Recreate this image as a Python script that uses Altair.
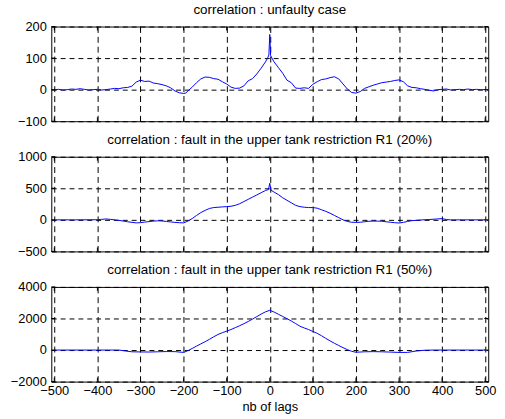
import altair as alt
import pandas as pd

# Cross-correlation curves, one per operating condition
lags_ok = [-500, -490, -480, -470, -460, -450, -440, -430, -420, -410, -400, -390, -380, -370,
           -360, -350, -340, -330, -320, -310, -300, -290, -280, -270, -260, -250, -240, -230,
           -220, -210, -200, -195, -190, -180, -170, -160, -150, -140, -130, -120, -110, -100,
           -90, -80, -70, -60, -50, -40, -30, -20, -10, -5, -2, 0, 2, 5, 10, 20, 30, 40, 50,
           60, 70, 80, 90, 100, 110, 120, 130, 140, 150, 160, 170, 180, 190, 200, 210, 220, 230,
           240, 250, 260, 270, 280, 290, 300, 310, 320, 330, 340, 350, 360, 370, 380, 390, 400,
           410, 420, 430, 440, 450, 460, 470, 480, 490, 500]
corr_ok = [0, 1, -1, 0, 2, 1, 3, 1, -1, 0, 1, -1, 0, 2,
           4, 3, 6, 7, 11, 24, 30, 26, 27, 21, 19, 16, 12, 6,
           -4, -10, -12, -11, -4, 8, 22, 34, 40, 39, 35, 33, 25, 18,
           8, 4, 5, 12, 28, 35, 50, 68, 88, 100, 110, 175, 108, 100, 88, 70, 52, 30, 22,
           5, 4, 6, 4, 17, 25, 32, 34, 38, 41, 34, 18, 2, -9, -11, -6, 4, 9,
           14, 18, 22, 24, 26, 29, 31, 25, 12, 7, 6, 3, 1, -2, -4, 0, 1,
           2, -1, 0, 1, 0, 2, 0, 1, 0, 0]

lags_20 = [-500, -450, -400, -390, -380, -370, -350, -330, -310, -300, -290, -270, -260, -250,
           -240, -230, -220, -210, -200, -190, -180, -170, -160, -150, -140, -130, -120, -110,
           -100, -90, -80, -70, -60, -50, -40, -30, -20, -10, -3, 0, 3, 10, 20, 30, 40, 50, 60,
           70, 80, 90, 100, 110, 120, 130, 140, 150, 160, 170, 180, 190, 200, 210, 220, 230,
           240, 250, 260, 270, 280, 290, 300, 310, 320, 330, 340, 350, 370, 390, 400, 410, 420,
           450, 500]
corr_20 = [0, 0, 2, 8, 14, 8, -8, -30, -48, -45, -35, -20, -15, -18,
           -25, -33, -40, -45, -48, -20, 20, 70, 115, 150, 180, 195, 200, 205,
           210, 215, 230, 255, 290, 325, 360, 395, 430, 465, 480, 580, 470, 440, 400, 350, 310,
           270, 230, 210, 200, 195, 195, 185, 160, 135, 105, 70, 35, 0, -25, -38, -40, -38, -30,
           -22, -20, -20, -22, -30, -38, -45, -50, -40, -25, -12, -8, -2, 5, 15, 20, 5, 0,
           0, 0]

lags_50 = [-500, -400, -350, -340, -320, -300, -280, -260, -240, -220, -200, -190, -180, -170,
           -160, -150, -140, -130, -120, -110, -100, -90, -80, -70, -60, -50, -40, -30, -20,
           -10, 0, 10, 20, 30, 40, 50, 60, 70, 80, 90, 100, 110, 120, 130, 140, 150, 160, 170,
           180, 190, 200, 220, 240, 260, 280, 300, 320, 340, 360, 380, 500]
corr_50 = [0, 0, 0, -40, -110, -120, -125, -110, -95, -100, -150, -40, 100, 250,
           390, 530, 680, 840, 990, 1100, 1200, 1300, 1420, 1540, 1670, 1810, 1960, 2120, 2280,
           2420, 2520, 2410, 2270, 2130, 1990, 1840, 1680, 1510, 1400, 1300, 1180, 1060, 910,
           740, 580, 430, 290, 150, 30, -80, -140, -110, -100, -110, -130, -150, -150, -60, -10,
           0, 0]

titles = [
    "correlation : unfaulty case",
    "correlation : fault in the upper tank restriction R1 (20%)",
    "correlation : fault in the upper tank restriction R1 (50%)",
]
y_ticks_ok = [-100, 0, 100, 200]
y_ticks_20 = [-500, 0, 500, 1000]
y_ticks_50 = [-2000, 0, 2000, 4000]
x_ticks = [-500, -400, -300, -200, -100, 0, 100, 200, 300, 400, 500]

FONT = "Liberation Sans"
FS = 13
TITLE_FS = 13.6
W, H = 443, 96
TICK = 4


def panel(lags, corr, title, yticks, bottom):
    df = pd.DataFrame({"lag": lags, "corr": corr})
    xscale = alt.Scale(domain=[-507, 507], nice=False, zero=False)
    yscale = alt.Scale(domain=[yticks[0], yticks[-1]], nice=False, zero=False)
    xaxis = alt.Axis(
        values=x_ticks, grid=True, gridDash=[6, 4], gridColor="black", gridOpacity=1,
        gridWidth=1, ticks=False, domain=False, labels=bottom, labelPadding=3,
        labelFont=FONT, labelFontSize=FS, labelColor="black", format="d",
        labelOverlap=False, labelFlush=False,
        title="nb of lags" if bottom else None, titleFont=FONT, titleFontSize=FS,
        titleFontWeight="normal", titleColor="black", titlePadding=3,
    )
    yaxis = alt.Axis(
        values=yticks, grid=True, gridDash=[5, 4], gridColor="black", gridOpacity=1,
        gridWidth=1, ticks=False, domain=False, labelPadding=5, labelFont=FONT,
        labelFontSize=FS, labelColor="black", format="d", labelOverlap=False,
        labelFlush=False, title=None,
    )
    xenc = alt.X("lag:Q", scale=xscale, axis=xaxis)
    yenc = alt.Y("corr:Q", scale=yscale, axis=yaxis)
    line = alt.Chart(df).mark_line(color="#0000ff", strokeWidth=1, clip=True).encode(
        x=xenc, y=yenc)
    # inward tick marks on all four sides of the box
    xt = pd.DataFrame({"lag": x_ticks})
    yt = pd.DataFrame({"corr": yticks})
    top_ticks = alt.Chart(xt).mark_rule(color="black").encode(
        x=xenc, y=alt.value(0), y2=alt.value(TICK))
    bot_ticks = alt.Chart(xt).mark_rule(color="black").encode(
        x=xenc, y=alt.value(H - TICK), y2=alt.value(H))
    left_ticks = alt.Chart(yt).mark_rule(color="black").encode(
        y=yenc, x=alt.value(0), x2=alt.value(TICK))
    right_ticks = alt.Chart(yt).mark_rule(color="black").encode(
        y=yenc, x=alt.value(W - TICK), x2=alt.value(W))
    return alt.layer(line, top_ticks, bot_ticks, left_ticks, right_ticks).properties(
        width=W, height=H,
        title=alt.TitleParams(title, font=FONT, fontSize=TITLE_FS, fontWeight="normal",
                              color="black", anchor="middle", offset=4),
    )


chart = alt.vconcat(
    panel(lags_ok, corr_ok, titles[0], y_ticks_ok, False),
    panel(lags_20, corr_20, titles[1], y_ticks_20, False),
    panel(lags_50, corr_50, titles[2], y_ticks_50, True),
    spacing=3,
).properties(
    padding={"left": 9, "top": -1, "right": 8, "bottom": 2},
    background="white",
).configure_view(stroke="black", strokeWidth=1)

chart.save("out.html", embed_options={"renderer": "svg", "actions": False})
